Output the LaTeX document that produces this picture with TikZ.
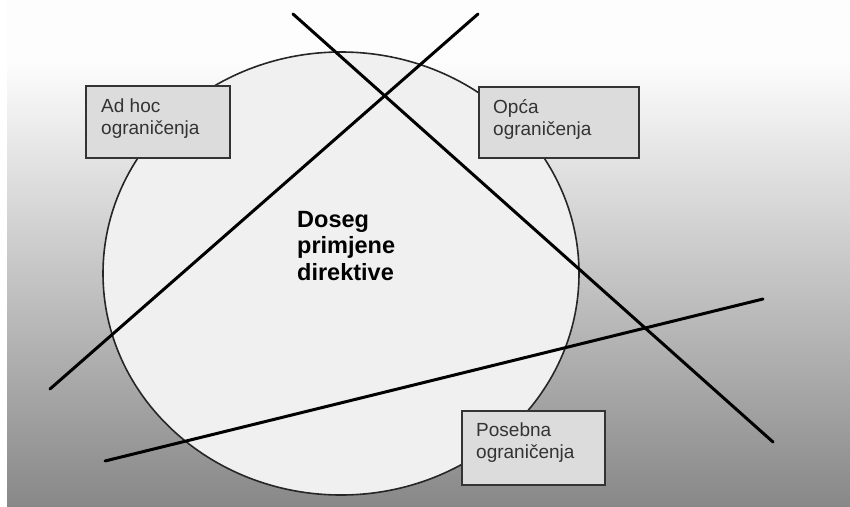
\documentclass[tikz,border=0pt]{standalone}
\usepackage{fontspec}
\setmainfont{Liberation Sans}
\definecolor{bgbot}{HTML}{888888}
\definecolor{bgtop}{HTML}{FDFDFD}
\definecolor{ellfill}{HTML}{F0F0F0}
\definecolor{boxfill}{HTML}{DCDCDC}
\definecolor{boxline}{HTML}{333333}
\definecolor{boxtext}{HTML}{333333}
\pgfdeclareverticalshading{bgshade}{100bp}{color(0bp)=(bgbot); color(25bp)=(bgbot); color(69bp)=(bgtop); color(100bp)=(bgtop)}
\tikzset{
  cutline/.style={line width=3pt, black, line cap=round},
  limbox/.style={draw=boxline, line width=1.6pt, fill=boxfill, rectangle, inner sep=0pt},
  limtext/.style={anchor=base west, inner sep=0pt, text=boxtext, font=\fontsize{19}{22}\selectfont, align=left},
  maintext/.style={anchor=base west, inner sep=0pt, font=\fontsize{23.5}{26.5}\selectfont\bfseries, align=left}
}
\begin{document}
\begin{tikzpicture}[x=1pt,y=-1pt]
\useasboundingbox (0,0) rectangle (850,506);
\fill[white] (0,0) rectangle (850,506);
\shade[shading=bgshade] (7,0) rectangle (850,506);
% scope ellipse
\draw[fill=ellfill, draw=black!85, line width=1.6pt] (341,273.5) ellipse [x radius=238, y radius=221.5];
\node[maintext] (scope) at (297,280) {Doseg\\primjene\\direktive};
% lines
\coordinate (l1a) at (293,14);
\coordinate (l1b) at (773,442);
\coordinate (l2a) at (478,14);
\coordinate (l2b) at (50,389);
\coordinate (l3a) at (105,461);
\coordinate (l3b) at (763,299);
\draw[cutline] (l1a) -- (l1b);
\draw[cutline] (l2a) -- (l2b);
\draw[cutline] (l3a) -- (l3b);
% boxes
\node[limbox, minimum width=144pt, minimum height=72pt, anchor=north west] (adhoc) at (85,85) {};
\node[limtext] (adhoct) at (101,134) {Ad hoc\\ograničenja};
\node[limbox, minimum width=160pt, minimum height=71pt, anchor=north west] (opca) at (478,86) {};
\node[limtext] (opcat) at (493,135) {Opća\\ograničenja};
\node[limbox, minimum width=143pt, minimum height=74pt, anchor=north west] (posebna) at (461,410) {};
\node[limtext] (posebnat) at (476,458) {Posebna\\ograničenja};
\end{tikzpicture}
\end{document}
